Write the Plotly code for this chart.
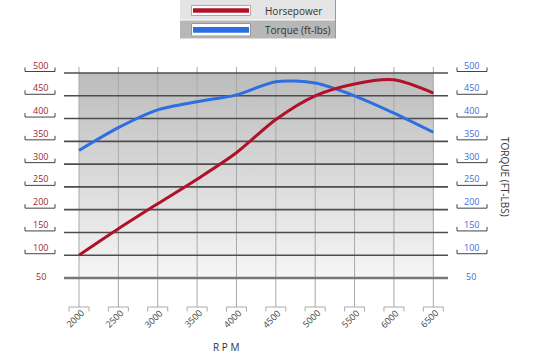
import plotly.graph_objects as go

# ---- data ----
rpm = [2000, 2500, 3000, 3500, 4000, 4500, 5000, 5500, 6000, 6500]
horsepower = [100, 158, 213, 267, 325, 398, 450, 476, 485, 456]
torque = [330, 380, 419, 437, 452, 481, 478, 450, 412, 370]
y_ticks = [50, 100, 150, 200, 250, 300, 350, 400, 450, 500]
x_tick_labels = [str(r) for r in rpm]

# ---- layout geometry ----
W, H = 535, 358
L, R, T, B = 64, 87, 67, 51
PW, PH = W - L - R, H - T - B
XR = [1809.5, 6686.7]
YR = [-13.7, 513.2]

RED = "#b0102a"
BLUE = "#2d6fe2"
RED_TXT = "#9b1f2e"
BLUE_TXT = "#3a6fd6"
FONT = "Open Sans"


def px_x(px):
    return (px - L) / PW


def px_y(py):
    return (H - B - py) / PH


def val_py(v):
    return (H - B) - (v - YR[0]) / (YR[1] - YR[0]) * PH


fig = go.Figure()

# gradient background
fig.add_trace(go.Scatter(
    x=[rpm[0], rpm[-1], rpm[-1], rpm[0], rpm[0]],
    y=[y_ticks[0], y_ticks[0], y_ticks[-1], y_ticks[-1], y_ticks[0]],
    mode="lines", line=dict(width=0), fill="toself",
    fillgradient=dict(type="vertical",
                      colorscale=[[0, "#f6f6f6"], [1, "#bcbcbc"]]),
    hoverinfo="skip", showlegend=False))

# vertical grid lines
vx, vy = [], []
for r in rpm:
    vx += [r, r, None]
    vy += [YR[0], YR[1], None]
fig.add_trace(go.Scatter(x=vx, y=vy, mode="lines",
                         line=dict(color="#a9a9a9", width=1),
                         hoverinfo="skip", showlegend=False))

# horizontal grid lines
hx, hy = [], []
for v in y_ticks[1:]:
    hx += [XR[0], XR[1], None]
    hy += [v, v, None]
fig.add_trace(go.Scatter(x=hx, y=hy, mode="lines",
                         line=dict(color="#4d4d4d", width=1.6),
                         hoverinfo="skip", showlegend=False))
# axis line at 50
fig.add_trace(go.Scatter(x=[XR[0], XR[1]], y=[y_ticks[0], y_ticks[0]], mode="lines",
                         line=dict(color="#777777", width=2.5),
                         hoverinfo="skip", showlegend=False))

# data curves
fig.add_trace(go.Scatter(x=rpm, y=torque, mode="lines", name="Torque (ft-lbs)",
                         line=dict(color=BLUE, width=3, shape="spline", smoothing=0.8),
                         showlegend=False))
fig.add_trace(go.Scatter(x=rpm, y=horsepower, mode="lines", name="Horsepower",
                         line=dict(color=RED, width=3, shape="spline", smoothing=0.8),
                         showlegend=False))

shapes = []
annotations = []


def bracket_up(x0, x1, ybot, h=4):
    return dict(type="path", xref="paper", yref="paper",
                path=f"M {px_x(x0)},{px_y(ybot - h)} L {px_x(x0)},{px_y(ybot)} "
                     f"L {px_x(x1)},{px_y(ybot)} L {px_x(x1)},{px_y(ybot - h)}",
                line=dict(color="#444444", width=1))


# y-axis labels and brackets
for v in y_ticks:
    py = val_py(v)
    if v == y_ticks[0]:
        ly = py - 1.5
    else:
        ly = py - 8
        shapes.append(bracket_up(25, 55, py - 1.5))
        shapes.append(bracket_up(457, 487, py - 1.5))
    annotations.append(dict(text=str(v), xref="paper", yref="paper",
                            x=px_x(40.5), y=px_y(ly), showarrow=False,
                            xanchor="center", yanchor="middle",
                            font=dict(family=FONT, size=9, color=RED_TXT)))
    annotations.append(dict(text=str(v), xref="paper", yref="paper",
                            x=px_x(471), y=px_y(ly), showarrow=False,
                            xanchor="center", yanchor="middle",
                            font=dict(family=FONT, size=9, color=BLUE_TXT)))

# x brackets and labels
for r, lab in zip(rpm, x_tick_labels):
    shapes.append(dict(type="path", xref="x", yref="paper",
                       path=f"M {r - 127},{px_y(311.5)} L {r - 127},{px_y(307)} "
                            f"L {r + 127},{px_y(307)} L {r + 127},{px_y(311.5)}",
                       line=dict(color="#aaaaaa", width=1)))
    annotations.append(dict(text=lab, xref="x", yref="paper", x=r, y=px_y(318.5),
                            xshift=-4, showarrow=False, textangle=-45,
                            xanchor="center", yanchor="middle",
                            font=dict(family=FONT, size=9, color="#444444")))

# axis titles
annotations.append(dict(text="R P M", xref="paper", yref="paper",
                        x=px_x(226), y=px_y(347), showarrow=False,
                        xanchor="center", yanchor="middle",
                        font=dict(family=FONT, size=10, color="#333333")))
annotations.append(dict(text="TORQUE (FT-LBS)", xref="paper", yref="paper",
                        x=px_x(505), y=px_y(177), showarrow=False, textangle=90,
                        xanchor="center", yanchor="middle",
                        font=dict(family=FONT, size=10, color="#333333")))

# custom legend
shapes += [
    dict(type="rect", xref="paper", yref="paper", x0=px_x(180), x1=px_x(335),
         y0=px_y(19.5), y1=px_y(0), fillcolor="#e4e4e4", line=dict(width=0)),
    dict(type="rect", xref="paper", yref="paper", x0=px_x(180), x1=px_x(335),
         y0=px_y(38.5), y1=px_y(20.5), fillcolor="#b7b7b7", line=dict(width=0)),
    dict(type="line", xref="paper", yref="paper", x0=px_x(335.5), x1=px_x(335.5),
         y0=px_y(38.5), y1=px_y(0), line=dict(color="#999999", width=1)),
    dict(type="rect", xref="paper", yref="paper", x0=px_x(191.5), x1=px_x(250.5),
         y0=px_y(15.5), y1=px_y(5.5), fillcolor="white", line=dict(color="#aaaaaa", width=1)),
    dict(type="rect", xref="paper", yref="paper", x0=px_x(193), x1=px_x(249),
         y0=px_y(12.7), y1=px_y(8.3), fillcolor=RED, line=dict(width=0)),
    dict(type="rect", xref="paper", yref="paper", x0=px_x(191.5), x1=px_x(250.5),
         y0=px_y(36), y1=px_y(23.5), fillcolor="white", line=dict(color="#999999", width=1)),
    dict(type="rect", xref="paper", yref="paper", x0=px_x(193), x1=px_x(249),
         y0=px_y(32.7), y1=px_y(27), fillcolor=BLUE, line=dict(width=0)),
]
annotations.append(dict(text="Horsepower", xref="paper", yref="paper",
                        x=px_x(263), y=px_y(11), showarrow=False,
                        xanchor="left", yanchor="middle",
                        font=dict(family=FONT, size=10, color="#333333")))
annotations.append(dict(text="Torque (ft-lbs)", xref="paper", yref="paper",
                        x=px_x(263), y=px_y(30), showarrow=False,
                        xanchor="left", yanchor="middle",
                        font=dict(family=FONT, size=10, color="#333333")))

fig.update_layout(
    width=W, height=H,
    margin=dict(l=L, r=R, t=T, b=B, pad=0),
    paper_bgcolor="white", plot_bgcolor="rgba(0,0,0,0)",
    xaxis=dict(range=XR, visible=False, fixedrange=True),
    yaxis=dict(range=YR, visible=False, fixedrange=True),
    shapes=shapes, annotations=annotations,
    showlegend=False,
    font=dict(family=FONT),
)

fig.write_html(
    "out.html",
    config={"displayModeBar": False},
    post_script="document.body.style.margin='0';document.body.style.overflow='hidden';",
)
